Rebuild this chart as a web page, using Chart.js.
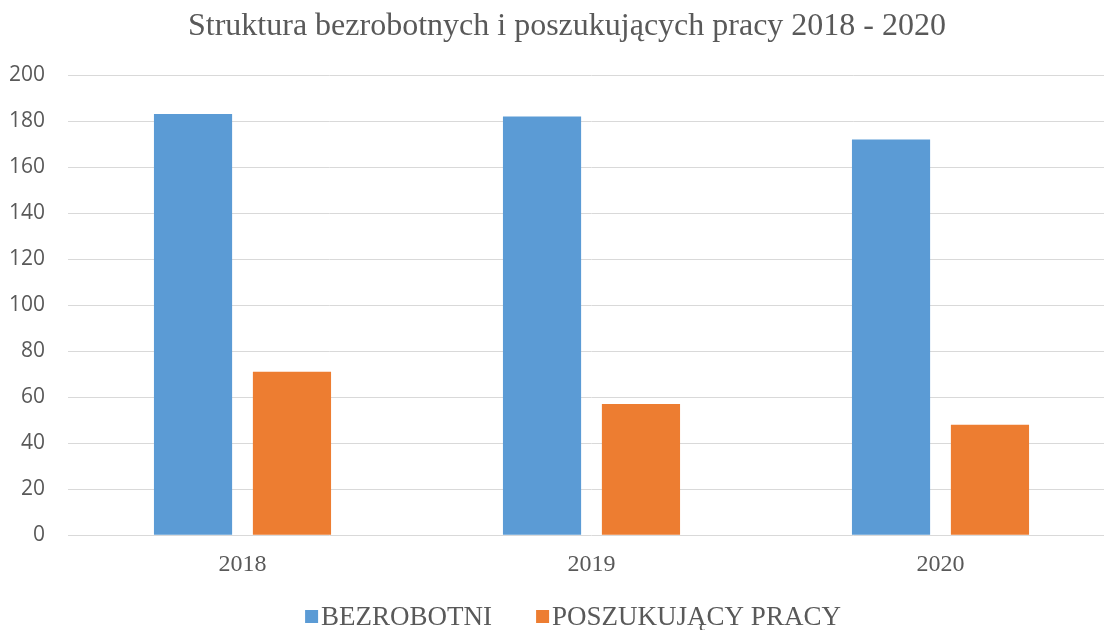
<!DOCTYPE html>
<html>
<head>
<meta charset="utf-8">
<script src="https://cdn.jsdelivr.net/npm/chart.js@4/dist/chart.umd.min.js"></script>
<style>
  html, body { margin: 0; padding: 0; background: #fff; }
  #wrap { width: 1104px; height: 630px; overflow: hidden; }
</style>
</head>
<body>
<!-- canvas a bit wider than the view: the original picture is cut off on the right -->
<div id="wrap"><canvas id="jobChart" width="1115" height="630"></canvas></div>
<script>
const years = ["2018", "2019", "2020"];
const bezrobotni = [183, 182, 172];
const poszukujacy = [71, 57, 48];
const yTicks = [0, 20, 40, 60, 80, 100, 120, 140, 160, 180, 200];
const chartTitle = "Struktura bezrobotnych i poszukujących pracy 2018 - 2020";

const textGray = "#595959";
const serif = "'Liberation Serif', 'Times New Roman', serif";

// title + legend drawn by hand, Excel centers them a bit right of the canvas middle
const excelDecor = {
    id: "excelDecor",
    afterDraw(chart) {
        const c = chart.ctx;
        c.save();
        c.textBaseline = "middle";

        c.font = "32px " + serif;
        c.fillStyle = textGray;
        c.textAlign = "center";
        c.fillText(chartTitle, 567, 27);

        c.textAlign = "left";
        c.font = "27px " + serif;
        const items = chart.data.datasets.map(ds => ({
            label: ds.label,
            color: ds.backgroundColor,
            w: 13 + 3 + c.measureText(ds.label).width
        }));
        const gap = 44;
        const total = items.reduce((s, it) => s + it.w, 0) + gap * (items.length - 1);
        let x = 573 - total / 2;
        const y = 617;
        items.forEach(it => {
            c.fillStyle = it.color;
            c.fillRect(x, y - 7, 13, 13);
            c.fillStyle = textGray;
            c.fillText(it.label, x + 16, y + 1);
            x += it.w + gap;
        });
        c.restore();
    }
};

document.addEventListener("DOMContentLoaded", function() {
    const ctx = document.getElementById("jobChart").getContext("2d");

    new Chart(ctx, {
        type: "bar",
        data: {
            labels: years,
            datasets: [{
                label: "BEZROBOTNI",
                data: bezrobotni,
                backgroundColor: "#5b9bd5",
                categoryPercentage: 0.567,
                barPercentage: 0.79
            }, {
                label: "POSZUKUJĄCY PRACY",
                data: poszukujacy,
                backgroundColor: "#ed7d31",
                categoryPercentage: 0.567,
                barPercentage: 0.79
            }]
        },
        options: {
            responsive: false,
            animation: false,
            layout: { padding: { left: 0, right: 0, top: 75, bottom: 36 } },
            scales: {
                x: {
                    grid: { display: false, drawTicks: false },
                    border: { display: false },
                    ticks: { color: textGray, font: { family: serif, size: 24 }, padding: 15 }
                },
                y: {
                    min: 0,
                    max: 200,
                    afterBuildTicks: function(axis) {
                        axis.ticks = yTicks.map(v => ({ value: v }));
                    },
                    afterFit: function(axis) {
                        axis.width = 68;
                    },
                    grid: { color: "#d9d9d9", lineWidth: 1, drawTicks: false },
                    border: { display: false },
                    ticks: { color: textGray, font: { family: "'Open Sans', sans-serif", size: 21 }, padding: 23 }
                }
            },
            plugins: {
                title: { display: false },
                legend: { display: false },
                tooltip: { enabled: false }
            }
        },
        plugins: [excelDecor]
    });
});
</script>
</body>
</html>
